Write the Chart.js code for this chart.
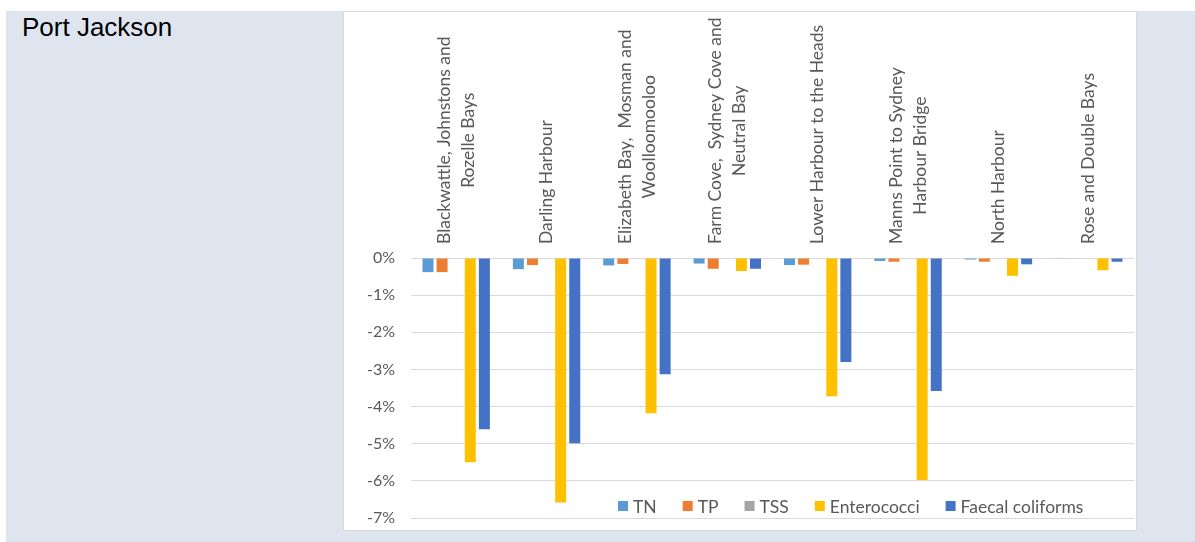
<!DOCTYPE html>
<html lang="en">
  <head>
    <meta charset="UTF-8" />
    <title>Port Jackson</title>
    <script src="https://cdn.jsdelivr.net/npm/chart.js"></script>
    <style>
      body {
        margin: 0;
        background: #ffffff;
        font-family: Lato, sans-serif;
      }
      .panel {
        position: absolute;
        left: 6px;
        top: 11px;
        width: 1189px;
        height: 531px;
        background: #dfe5ee;
      }
      .title {
        position: absolute;
        left: 22px;
        top: 12px;
        font-family: "Liberation Sans", Arial, sans-serif;
        font-size: 26px;
        color: #000000;
      }
      .chartBox {
        position: absolute;
        left: 343px;
        top: 11px;
        width: 794px;
        height: 520px;
        box-sizing: border-box;
        border: 1px solid #d9d9d9;
        background: #ffffff;
      }
    </style>
  </head>
  <body>
    <div class="panel"></div>
    <div class="title">Port Jackson</div>
    <div class="chartBox">
      <canvas id="portChart"></canvas>
    </div>

    <script>
      // Categories (each entry is the lines of the label)
      const categories = [
        ["Blackwattle, Johnstons and", "Rozelle Bays"],
        ["Darling Harbour"],
        ["Elizabeth Bay,  Mosman and", "Woolloomooloo"],
        ["Farm Cove,  Sydney Cove and", "Neutral Bay"],
        ["Lower Harbour to the Heads"],
        ["Manns Point to Sydney", "Harbour Bridge"],
        ["North Harbour"],
        ["Rose and Double Bays"],
      ];

      // Values in percent
      const tnValues = [-0.38, -0.3, -0.2, -0.15, -0.19, -0.08, -0.04, -0.01];
      const tpValues = [-0.38, -0.19, -0.16, -0.29, -0.18, -0.1, -0.1, -0.01];
      const tssValues = [0, 0, 0, 0, 0, 0, 0, 0];
      const enteroValues = [-5.5, -6.58, -4.18, -0.35, -3.72, -5.98, -0.48, -0.33];
      const faecalValues = [-4.61, -4.99, -3.13, -0.29, -2.8, -3.58, -0.17, -0.1];

      const seriesNames = ["TN", "TP", "TSS", "Enterococci", "Faecal coliforms"];
      const seriesColors = ["#5b9bd5", "#ed7d31", "#a5a5a5", "#ffc000", "#4472c4"];
      const yTicks = [0, -1, -2, -3, -4, -5, -6, -7];

      const textColor = "#595959";
      const labelFont = "17.5px Lato";

      // Category labels: rotated, lines centred, block starting near the axis
      const categoryLabels = {
        id: "categoryLabels",
        afterDraw(chart) {
          const ctx = chart.ctx;
          const xScale = chart.scales.x;
          const lineH = 24;
          ctx.save();
          ctx.font = labelFont;
          ctx.fillStyle = textColor;
          ctx.textAlign = "center";
          ctx.textBaseline = "middle";
          categories.forEach((lines, i) => {
            const x = xScale.getPixelForValue(i);
            const maxW = Math.max(...lines.map((l) => ctx.measureText(l).width));
            ctx.save();
            ctx.translate(x, chart.chartArea.top - 14);
            ctx.rotate(-Math.PI / 2);
            lines.forEach((line, j) => {
              ctx.fillText(line, maxW / 2, (j - (lines.length - 1) / 2) * lineH);
            });
            ctx.restore();
          });
          ctx.restore();
        },
      };

      // Legend drawn inside the plot, near the bottom
      const innerLegend = {
        id: "innerLegend",
        afterDraw(chart) {
          const ctx = chart.ctx;
          const area = chart.chartArea;
          let x = area.left + 207;
          const y = area.bottom - 12;
          ctx.save();
          ctx.font = labelFont;
          ctx.textBaseline = "middle";
          ctx.textAlign = "left";
          chart.data.datasets.forEach((ds) => {
            ctx.fillStyle = ds.backgroundColor;
            ctx.fillRect(x, y - 5, 10, 10);
            ctx.fillStyle = textColor;
            ctx.fillText(ds.label, x + 15, y + 1);
            x += 15 + ctx.measureText(ds.label).width + 26;
          });
          ctx.restore();
        },
      };

      const seriesValues = [tnValues, tpValues, tssValues, enteroValues, faecalValues];

      new Chart(document.getElementById("portChart"), {
        type: "bar",
        data: {
          labels: categories.map((c) => c.join(" ")),
          datasets: seriesNames.map((name, i) => ({
            label: name,
            data: seriesValues[i],
            backgroundColor: seriesColors[i],
            barPercentage: 0.78,
            categoryPercentage: 0.78,
          })),
        },
        options: {
          responsive: true,
          maintainAspectRatio: false,
          animation: false,
          layout: { padding: { right: 2, bottom: 12 } },
          plugins: {
            legend: { display: false },
            tooltip: { enabled: false },
          },
          scales: {
            x: {
              position: "top",
              grid: { display: false },
              border: { display: false },
              ticks: { display: false },
              afterFit(scale) {
                scale.height = 246;
              },
            },
            y: {
              min: -7,
              max: 0,
              grid: { color: "#d9d9d9", drawTicks: false },
              border: { display: false },
              afterBuildTicks(scale) {
                scale.ticks = yTicks.map((v) => ({ value: v }));
              },
              ticks: {
                padding: 16,
                color: textColor,
                font: { family: "Lato", size: 16 },
                callback: (v) => v + "%",
              },
              afterFit(scale) {
                scale.width = 67;
                scale.paddingTop = 0;
                scale.paddingBottom = 0;
              },
            },
          },
        },
        plugins: [categoryLabels, innerLegend],
      });
    </script>
  </body>
</html>
